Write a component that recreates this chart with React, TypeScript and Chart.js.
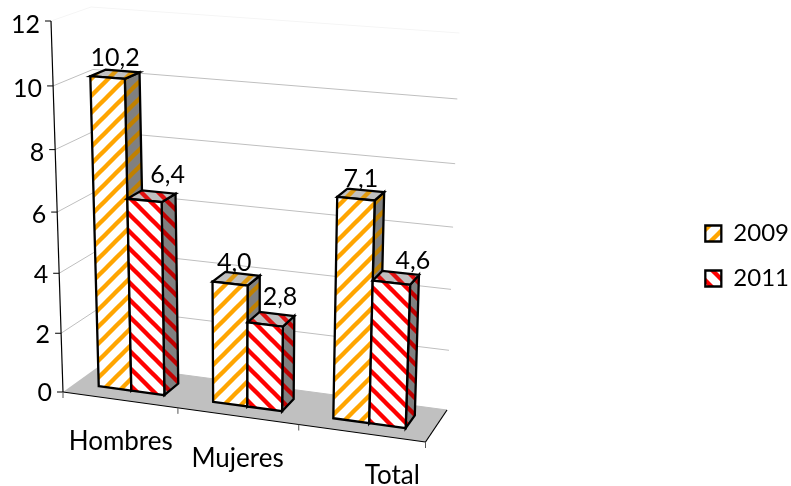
import React, { useEffect, useRef } from "react";
import { Chart, BarController, BarElement, registerables } from "chart.js";

const categories = ["Hombres", "Mujeres", "Total"];
const seriesNames = ["2009", "2011"];
const values2009 = [10.2, 4.0, 7.1];
const values2011 = [6.4, 2.8, 4.6];
const axisMax = 12;
const axisStep = 2;

const FAMILY = 'Lato, "Open Sans", sans-serif';
const FONT = `25px ${FAMILY}`;
const CAT_FONT = `26px ${FAMILY}`;
// Screen corners of the 3D box: f = front, b = back, B/T = bottom/top, L/R = left/right
const C = {
  fBL: [63, 392], fBR: [425.5, 442], fTL: [51, 21], fTR: [440, 46],
  bBL: [102, 364], bBR: [447, 410], bTL: [91, 7], bTR: [459.5, 33],
};
const BAR_D0 = 0.32;
const BAR_D1 = 0.72;
const CAT_NUDGE = [[1, 50], [0, 51], [31, 51]];
const VALUE_NUDGE = [
  [[0, -8], [-2, -8], [0, -8]],
  [[16, -13], [9, -14], [17, -9]],
];

let area = { left: 0, top: 0, width: 1, height: 1, right: 1, bottom: 1 };

const mix = (a: number[], b: number[], t: number) => [a[0] + (b[0] - a[0]) * t, a[1] + (b[1] - a[1]) * t];
const warpU = (u: number) => u * (0.9265 + 0.0735 * u);
const warpV = (v: number) => v * (0.94 + 0.06 * v);

function corner(u: number, v: number, d: number) {
  const up = warpU(u);
  const vp = warpV(v);
  const fb = mix(C.fBL, C.fBR, up);
  const ft = mix(C.fTL, C.fTR, up);
  const bb = mix(C.bBL, C.bBR, up);
  const bt = mix(C.bTL, C.bTR, up);
  return mix(mix(fb, ft, vp), mix(bb, bt, vp), d);
}
// px, py come from the chart's own scales
function project(px: number, py: number, d: number) {
  return corner((px - area.left) / area.width, (area.bottom - py) / area.height, d);
}

function poly(ctx: CanvasRenderingContext2D, pts: number[][]) {
  ctx.beginPath();
  pts.forEach((p, i) => (i ? ctx.lineTo(p[0], p[1]) : ctx.moveTo(p[0], p[1])));
  ctx.closePath();
}
function line(ctx: CanvasRenderingContext2D, a: number[], b: number[]) {
  ctx.beginPath();
  ctx.moveTo(a[0], a[1]);
  ctx.lineTo(b[0], b[1]);
  ctx.stroke();
}

const facePatterns = new WeakMap<object, { side: CanvasPattern; top: CanvasPattern }>();

function makePattern(bg: string, stripe: string, rising: boolean) {
  const s = 17;
  const tile = document.createElement("canvas");
  tile.width = s;
  tile.height = s;
  const t = tile.getContext("2d")!;
  t.fillStyle = bg;
  t.fillRect(0, 0, s, s);
  t.strokeStyle = stripe;
  t.lineWidth = 4.4;
  for (const o of [-s, 0, s]) {
    t.beginPath();
    if (rising) {
      t.moveTo(-4 + o, s + 4);
      t.lineTo(s + 4 + o, -4);
    } else {
      t.moveTo(-4 + o, -4);
      t.lineTo(s + 4 + o, s + 4);
    }
    t.stroke();
  }
  return t.createPattern(tile, "repeat")!;
}

class Bar3DElement extends BarElement {
  static id = "bar3d";
  draw(ctx: CanvasRenderingContext2D) {
    const el: any = this;
    const { x, y, base, width, options } = el;
    const l = x - width / 2;
    const r = x + width / 2;
    const front = [project(l, base, BAR_D0), project(r, base, BAR_D0), project(r, y, BAR_D0), project(l, y, BAR_D0)];
    const side = [project(r, base, BAR_D0), project(r, base, BAR_D1), project(r, y, BAR_D1), project(r, y, BAR_D0)];
    const top = [project(l, y, BAR_D0), project(r, y, BAR_D0), project(r, y, BAR_D1), project(l, y, BAR_D1)];
    const extra = facePatterns.get(options.backgroundColor)!;
    ctx.save();
    ctx.lineJoin = "miter";
    ctx.strokeStyle = options.borderColor;
    ctx.lineWidth = options.borderWidth;
    for (const [pts, fill] of [
      [side, extra.side],
      [top, extra.top],
      [front, options.backgroundColor],
    ] as any[]) {
      poly(ctx, pts);
      ctx.fillStyle = fill;
      ctx.fill();
      ctx.stroke();
    }
    ctx.restore();
  }
}

class Bar3DController extends BarController {
  static id = "bar3d";
  static defaults = { ...(BarController as any).defaults, dataElementType: "bar3d" };
  static overrides = (BarController as any).overrides;
}

const scene3d = {
  id: "scene3d",
  beforeDatasetsDraw(chart: any) {
    const ctx: CanvasRenderingContext2D = chart.ctx;
    area = chart.chartArea;
    const xs = chart.scales.x;
    const ys = chart.scales.y;
    ctx.save();
    // floor
    poly(ctx, [C.fBL, C.fBR, C.bBR, C.bBL]);
    ctx.fillStyle = "#c0c0c0";
    ctx.fill();
    // grid on side wall and back wall
    ctx.lineWidth = 1;
    ys.ticks.forEach((t: any) => {
      const py = ys.getPixelForValue(t.value);
      const a = project(xs.left, py, 0);
      const b = project(xs.left, py, 1);
      const c = project(xs.right, py, 1);
      ctx.strokeStyle = t.value === axisMax ? "#f5f5f5" : "#bfbfbf";
      if (t.value !== 0) line(ctx, a, b);
      line(ctx, b, c);
    });
    // axes
    ctx.strokeStyle = "#000";
    ctx.lineWidth = 1.2;
    line(ctx, C.fTL, C.fBL);
    line(ctx, C.fBL, C.fBR);
    line(ctx, C.fBR, C.bBR);
    ctx.lineWidth = 1;
    ctx.fillStyle = "#000";
    ctx.font = FONT;
    ctx.textAlign = "right";
    ctx.textBaseline = "middle";
    ys.ticks.forEach((t: any) => {
      const a = project(xs.left, ys.getPixelForValue(t.value), 0);
      ctx.strokeStyle = "#000";
      line(ctx, [a[0] - 6, a[1]], a);
      ctx.fillText(String(t.value), a[0] - 11, a[1] + 1 + (3 * t.value) / axisMax);
    });
    ctx.strokeStyle = "#555";
    for (let i = 0; i <= categories.length; i++) {
      const px = xs.left + (xs.width * i) / categories.length;
      const a = project(px, ys.bottom, 0);
      line(ctx, a, [a[0], a[1] + 6]);
    }
    ctx.textAlign = "center";
    ctx.textBaseline = "alphabetic";
    ctx.fillStyle = "#000";
    ctx.font = CAT_FONT;
    xs.getLabels().forEach((label: string, i: number) => {
      const a = project(xs.getPixelForValue(i), ys.bottom, 0);
      ctx.fillText(label, a[0] + CAT_NUDGE[i][0], a[1] + CAT_NUDGE[i][1]);
    });
    ctx.restore();
  },
  beforeDatasetDraw(_chart: any, args: any) {
    // the later series stands in front of the earlier one's side face
    if (args.index === 1) return false;
  },
  afterDatasetDraw(chart: any, args: any) {
    if (args.index === 0) chart.getDatasetMeta(1).controller.draw();
  },
  afterDatasetsDraw(chart: any) {
    const ctx: CanvasRenderingContext2D = chart.ctx;
    ctx.save();
    ctx.font = FONT;
    ctx.fillStyle = "#000";
    ctx.textAlign = "center";
    ctx.textBaseline = "alphabetic";
    chart.data.datasets.forEach((ds: any, di: number) => {
      chart.getDatasetMeta(di).data.forEach((bar: any, i: number) => {
        const a = project(bar.x, bar.y, (BAR_D0 + BAR_D1) / 2);
        const text = Number(ds.data[i]).toFixed(1).replace(".", ",");
        ctx.fillText(text, a[0] + VALUE_NUDGE[di][i][0], a[1] + VALUE_NUDGE[di][i][1]);
      });
    });
    ctx.restore();
  },
};

Chart.register(...registerables, Bar3DElement as any, Bar3DController as any);

export default function App() {
  const ref = useRef<HTMLCanvasElement>(null);
  useEffect(() => {
    const front09 = makePattern("#ffffff", "#ffa500", true);
    const front11 = makePattern("#ffffff", "#ff0000", false);
    facePatterns.set(front09, {
      side: makePattern("#808080", "#c08000", true),
      top: makePattern("#c0c0c0", "#e09a10", true),
    });
    facePatterns.set(front11, {
      side: makePattern("#808080", "#c00000", false),
      top: makePattern("#c0c0c0", "#e01010", false),
    });
    const chart = new Chart(ref.current!, {
      type: "bar3d" as any,
      data: {
        labels: categories,
        datasets: [
          { label: seriesNames[0], data: values2009, backgroundColor: front09, borderColor: "#000", borderWidth: 2.3, clip: false } as any,
          { label: seriesNames[1], data: values2011, backgroundColor: front11, borderColor: "#000", borderWidth: 2.3, clip: false } as any,
        ],
      },
      options: {
        responsive: false,
        animation: false,
        events: [],
        categoryPercentage: 0.58,
        barPercentage: 1,
        layout: { padding: { top: 26, right: -8 } },
        scales: {
          x: { type: "category", offset: true, display: false },
          y: { type: "linear", min: 0, max: axisMax, ticks: { stepSize: axisStep }, display: false },
        },
        plugins: {
          tooltip: { enabled: false },
          legend: {
            position: "right",
            labels: { boxWidth: 16, boxHeight: 16, padding: 21, color: "#000", font: { family: FAMILY, size: 24 } },
          },
        },
      } as any,
      plugins: [scene3d as any],
    });
    return () => chart.destroy();
  }, []);
  return (
    <canvas
      ref={ref}
      width={791}
      height={486}
      style={{ position: "fixed", left: 0, top: 0, display: "block", width: 791, height: 486 }}
    />
  );
}
